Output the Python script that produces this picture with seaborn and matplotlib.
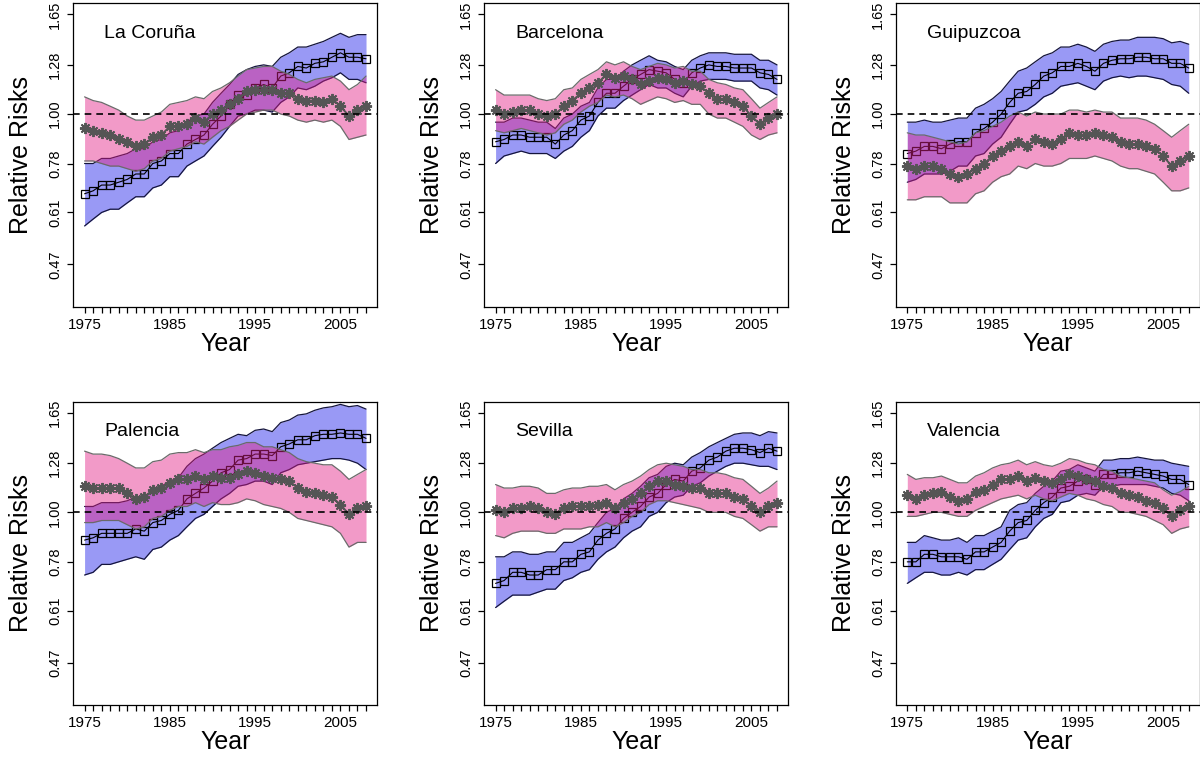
import matplotlib
matplotlib.use("Agg")
import matplotlib.pyplot as plt
import seaborn as sns
from matplotlib.ticker import FixedLocator, NullLocator

# years 1975-2008
years = list(range(1975, 2009))

# La Coruña
co_sq = [0.67,0.68,0.70,0.70,0.71,0.72,0.74,0.74,0.78,0.79,0.82,0.82,0.86,0.88,0.90,0.95,0.99,1.05,1.10,1.10,1.14,1.16,1.14,1.21,1.23,1.27,1.26,1.29,1.30,1.33,1.36,1.33,1.33,1.32]
co_sq_lo = [0.57,0.59,0.61,0.62,0.62,0.64,0.66,0.66,0.69,0.70,0.73,0.73,0.77,0.79,0.81,0.85,0.89,0.94,0.99,1.00,1.02,1.02,1.01,1.06,1.09,1.14,1.13,1.15,1.18,1.20,1.23,1.19,1.19,1.17]
co_sq_hi = [0.78,0.78,0.80,0.80,0.81,0.82,0.84,0.84,0.87,0.88,0.91,0.92,0.96,0.99,1.00,1.06,1.11,1.16,1.22,1.25,1.27,1.28,1.27,1.33,1.36,1.40,1.40,1.42,1.44,1.47,1.50,1.47,1.49,1.49]
co_as = [0.93,0.92,0.91,0.90,0.88,0.87,0.85,0.86,0.89,0.90,0.94,0.94,0.95,0.98,0.96,1.00,1.02,1.05,1.08,1.12,1.13,1.13,1.13,1.11,1.11,1.08,1.07,1.07,1.06,1.08,1.04,0.99,1.02,1.04]
co_as_lo = [0.79,0.79,0.78,0.77,0.77,0.76,0.75,0.76,0.79,0.80,0.83,0.84,0.85,0.87,0.86,0.89,0.92,0.94,0.97,1.00,1.01,1.02,1.02,1.00,0.99,0.97,0.96,0.97,0.96,0.97,0.94,0.88,0.89,0.90]
co_as_hi = [1.09,1.07,1.06,1.04,1.02,0.99,0.97,0.97,0.99,1.01,1.05,1.06,1.07,1.09,1.08,1.12,1.14,1.17,1.21,1.25,1.26,1.27,1.27,1.24,1.22,1.19,1.17,1.19,1.20,1.21,1.18,1.13,1.16,1.21]

# Barcelona
ba_sq = [0.87,0.88,0.90,0.90,0.89,0.89,0.89,0.86,0.90,0.92,0.97,0.99,1.06,1.11,1.11,1.15,1.19,1.22,1.25,1.24,1.23,1.19,1.17,1.23,1.26,1.28,1.27,1.27,1.26,1.26,1.26,1.23,1.22,1.19]
ba_sq_lo = [0.78,0.81,0.82,0.83,0.82,0.82,0.82,0.80,0.83,0.85,0.89,0.92,0.99,1.03,1.03,1.07,1.10,1.13,1.16,1.14,1.14,1.11,1.09,1.15,1.18,1.19,1.19,1.19,1.18,1.18,1.18,1.14,1.13,1.10]
ba_sq_hi = [0.96,0.96,0.98,0.98,0.97,0.96,0.96,0.93,0.98,1.00,1.04,1.06,1.14,1.19,1.19,1.24,1.28,1.31,1.34,1.31,1.30,1.27,1.25,1.31,1.34,1.36,1.36,1.36,1.35,1.35,1.35,1.31,1.31,1.28]
ba_as = [1.02,1.00,1.01,1.02,1.02,1.00,0.99,1.00,1.04,1.07,1.11,1.14,1.17,1.22,1.20,1.21,1.19,1.16,1.18,1.20,1.19,1.17,1.18,1.16,1.15,1.11,1.08,1.08,1.06,1.04,0.99,0.95,0.98,1.00]
ba_as_lo = [0.92,0.91,0.92,0.93,0.92,0.91,0.90,0.91,0.95,0.97,1.01,1.04,1.06,1.10,1.09,1.10,1.08,1.05,1.07,1.09,1.08,1.06,1.07,1.05,1.05,1.00,0.98,0.98,0.96,0.94,0.90,0.88,0.90,0.91]
ba_as_hi = [1.13,1.10,1.10,1.10,1.10,1.08,1.07,1.08,1.13,1.14,1.19,1.22,1.25,1.30,1.28,1.30,1.27,1.25,1.27,1.29,1.28,1.26,1.27,1.24,1.24,1.19,1.17,1.16,1.14,1.13,1.08,1.03,1.06,1.09]

# Guipuzcoa
gu_sq = [0.82,0.83,0.85,0.85,0.84,0.86,0.87,0.87,0.91,0.93,0.96,1.00,1.06,1.11,1.12,1.16,1.21,1.23,1.27,1.27,1.29,1.27,1.24,1.29,1.31,1.32,1.32,1.33,1.33,1.32,1.32,1.29,1.29,1.26]
gu_sq_lo = [0.71,0.72,0.74,0.74,0.74,0.75,0.77,0.77,0.81,0.82,0.86,0.89,0.95,1.01,1.02,1.05,1.09,1.11,1.15,1.16,1.17,1.15,1.13,1.18,1.20,1.21,1.20,1.21,1.21,1.20,1.19,1.16,1.15,1.11]
gu_sq_hi = [0.96,0.96,0.97,0.96,0.96,0.97,0.98,0.98,1.03,1.05,1.08,1.12,1.18,1.24,1.26,1.30,1.34,1.36,1.40,1.40,1.42,1.40,1.37,1.42,1.44,1.45,1.45,1.47,1.47,1.47,1.46,1.43,1.44,1.42]
gu_as = [0.77,0.76,0.77,0.77,0.76,0.74,0.73,0.74,0.76,0.78,0.81,0.83,0.85,0.87,0.85,0.88,0.87,0.86,0.88,0.91,0.90,0.90,0.91,0.90,0.89,0.87,0.86,0.86,0.85,0.84,0.81,0.77,0.79,0.81]
gu_as_lo = [0.65,0.65,0.66,0.66,0.66,0.64,0.64,0.64,0.67,0.68,0.71,0.73,0.74,0.77,0.76,0.78,0.77,0.77,0.78,0.80,0.80,0.80,0.81,0.80,0.79,0.77,0.76,0.76,0.75,0.74,0.71,0.68,0.68,0.69]
gu_as_hi = [0.91,0.90,0.90,0.89,0.88,0.87,0.86,0.87,0.91,0.92,0.94,0.96,0.99,1.01,0.99,1.01,1.00,1.00,1.00,1.02,1.02,1.01,1.02,1.01,1.01,0.98,0.98,0.98,0.97,0.95,0.92,0.89,0.92,0.95]

# Palencia
pa_sq = [0.87,0.88,0.90,0.90,0.90,0.90,0.92,0.91,0.95,0.96,0.99,1.01,1.07,1.10,1.13,1.17,1.22,1.24,1.30,1.31,1.34,1.34,1.33,1.39,1.41,1.44,1.44,1.47,1.48,1.48,1.49,1.48,1.48,1.45]
pa_sq_lo = [0.73,0.74,0.77,0.77,0.78,0.79,0.80,0.79,0.83,0.84,0.87,0.89,0.93,0.97,0.99,1.03,1.07,1.10,1.14,1.15,1.17,1.17,1.15,1.22,1.24,1.27,1.28,1.29,1.30,1.31,1.31,1.30,1.28,1.24]
pa_sq_hi = [1.03,1.03,1.05,1.05,1.05,1.06,1.08,1.07,1.12,1.14,1.17,1.19,1.26,1.31,1.34,1.38,1.42,1.45,1.48,1.47,1.51,1.52,1.50,1.57,1.59,1.63,1.64,1.67,1.69,1.70,1.72,1.70,1.71,1.68]
pa_as = [1.14,1.13,1.13,1.13,1.13,1.10,1.07,1.08,1.12,1.13,1.16,1.18,1.18,1.20,1.18,1.20,1.19,1.19,1.21,1.23,1.22,1.20,1.19,1.18,1.17,1.13,1.11,1.10,1.09,1.08,1.04,0.99,1.02,1.03]
pa_as_lo = [0.95,0.95,0.96,0.96,0.96,0.94,0.92,0.93,0.97,0.98,1.01,1.03,1.03,1.05,1.03,1.05,1.04,1.04,1.05,1.07,1.06,1.04,1.03,1.02,1.00,0.97,0.96,0.95,0.94,0.93,0.90,0.84,0.86,0.86]
pa_as_hi = [1.36,1.34,1.34,1.33,1.31,1.28,1.25,1.25,1.29,1.30,1.34,1.35,1.35,1.37,1.35,1.37,1.37,1.39,1.40,1.42,1.42,1.39,1.39,1.37,1.35,1.31,1.29,1.28,1.27,1.27,1.23,1.18,1.21,1.24]

# Sevilla
se_sq = [0.70,0.71,0.74,0.74,0.73,0.73,0.75,0.75,0.78,0.78,0.81,0.82,0.87,0.90,0.92,0.97,1.00,1.03,1.08,1.10,1.15,1.18,1.17,1.23,1.25,1.30,1.32,1.36,1.38,1.38,1.37,1.35,1.38,1.36]
se_sq_lo = [0.62,0.64,0.66,0.66,0.66,0.67,0.68,0.68,0.71,0.72,0.74,0.75,0.79,0.82,0.84,0.88,0.91,0.93,0.98,1.00,1.05,1.08,1.09,1.14,1.16,1.20,1.23,1.26,1.28,1.28,1.27,1.26,1.26,1.24]
se_sq_hi = [0.80,0.80,0.82,0.82,0.81,0.81,0.82,0.82,0.86,0.86,0.88,0.90,0.95,1.00,1.02,1.07,1.10,1.14,1.19,1.21,1.26,1.28,1.27,1.32,1.35,1.39,1.42,1.45,1.48,1.49,1.49,1.47,1.50,1.49]
se_as = [1.01,1.00,1.02,1.02,1.03,1.02,1.00,0.99,1.02,1.03,1.03,1.03,1.04,1.05,1.02,1.05,1.07,1.10,1.14,1.17,1.17,1.15,1.14,1.13,1.13,1.10,1.10,1.10,1.08,1.07,1.03,1.00,1.03,1.05]
se_as_lo = [0.89,0.88,0.90,0.91,0.91,0.91,0.90,0.90,0.92,0.92,0.92,0.93,0.93,0.95,0.93,0.95,0.98,1.00,1.04,1.06,1.06,1.05,1.04,1.03,1.02,1.00,1.00,1.00,0.98,0.97,0.94,0.91,0.93,0.93]
se_as_hi = [1.15,1.13,1.13,1.14,1.14,1.13,1.10,1.10,1.12,1.13,1.13,1.14,1.14,1.15,1.12,1.15,1.17,1.20,1.24,1.27,1.28,1.27,1.26,1.24,1.24,1.22,1.22,1.21,1.19,1.18,1.14,1.10,1.13,1.17]

# Valencia
va_sq = [0.78,0.78,0.81,0.81,0.80,0.80,0.80,0.79,0.82,0.82,0.84,0.86,0.91,0.95,0.96,1.01,1.05,1.08,1.13,1.14,1.17,1.18,1.15,1.21,1.21,1.22,1.22,1.23,1.22,1.21,1.20,1.18,1.18,1.15]
va_sq_lo = [0.70,0.72,0.74,0.74,0.73,0.73,0.74,0.73,0.75,0.75,0.77,0.79,0.83,0.87,0.88,0.93,0.97,0.99,1.05,1.06,1.09,1.10,1.09,1.14,1.14,1.15,1.15,1.15,1.15,1.14,1.13,1.10,1.09,1.06]
va_sq_hi = [0.86,0.86,0.89,0.88,0.87,0.87,0.88,0.86,0.89,0.89,0.91,0.93,1.01,1.04,1.05,1.10,1.14,1.17,1.23,1.24,1.27,1.25,1.23,1.30,1.30,1.31,1.31,1.32,1.31,1.30,1.30,1.28,1.27,1.26]
va_as = [1.09,1.07,1.09,1.10,1.11,1.08,1.06,1.07,1.11,1.12,1.15,1.18,1.18,1.20,1.17,1.19,1.17,1.16,1.18,1.21,1.20,1.18,1.17,1.14,1.13,1.10,1.09,1.08,1.06,1.05,1.02,0.98,1.01,1.03]
va_as_lo = [0.98,0.98,0.99,1.00,1.00,0.99,0.98,0.98,1.01,1.03,1.05,1.07,1.08,1.09,1.07,1.09,1.07,1.06,1.08,1.10,1.09,1.07,1.06,1.04,1.03,1.00,1.00,0.99,0.98,0.96,0.94,0.90,0.92,0.93]
va_as_hi = [1.21,1.18,1.19,1.19,1.20,1.18,1.16,1.16,1.20,1.22,1.25,1.27,1.28,1.30,1.27,1.29,1.27,1.26,1.28,1.31,1.30,1.28,1.27,1.24,1.23,1.20,1.19,1.18,1.17,1.16,1.12,1.09,1.11,1.14]

regions = [
    ("La Coruña", co_sq, co_sq_lo, co_sq_hi, co_as, co_as_lo, co_as_hi),
    ("Barcelona", ba_sq, ba_sq_lo, ba_sq_hi, ba_as, ba_as_lo, ba_as_hi),
    ("Guipuzcoa", gu_sq, gu_sq_lo, gu_sq_hi, gu_as, gu_as_lo, gu_as_hi),
    ("Palencia", pa_sq, pa_sq_lo, pa_sq_hi, pa_as, pa_as_lo, pa_as_hi),
    ("Sevilla", se_sq, se_sq_lo, se_sq_hi, se_as, se_as_lo, se_as_hi),
    ("Valencia", va_sq, va_sq_lo, va_sq_hi, va_as, va_as_lo, va_as_hi),
]

y_ticks = [0.47, 0.61, 0.78, 1.00, 1.28, 1.65]
y_tick_labels = ["0.47", "0.61", "0.78", "1.00", "1.28", "1.65"]
x_tick_labels = [1975, 1985, 1995, 2005]

sns.set_style("ticks")
plt.rcParams["font.family"] = ["Liberation Sans", "DejaVu Sans"]
plt.rcParams["text.color"] = "black"
plt.rcParams["axes.labelcolor"] = "black"
plt.rcParams["xtick.color"] = "black"
plt.rcParams["ytick.color"] = "black"

blue_fill = (0.0, 0.0, 0.90, 0.40)
blue_edge = "#14143c"
pink_fill = (0.89, 0.12, 0.53, 0.45)
pink_edge = "#6a6a6a"
ast_col = "#555555"

fig = plt.figure(figsize=(12, 7.58), dpi=100)
lefts = [0.0611, 0.4036, 0.7467]
bottoms = [0.5954, 0.0699]
w, h = 0.2533, 0.4004

for i, (name, sq, sq_lo, sq_hi, ast, ast_lo, ast_hi) in enumerate(regions):
    ax = fig.add_axes([lefts[i % 3], bottoms[i // 3], w, h])

    # band for the square series, then its line
    ax.fill_between(years, sq_lo, sq_hi, facecolor=blue_fill, linewidth=0, zorder=1)
    ax.plot(years, sq_lo, color=blue_edge, lw=0.9, zorder=1.5)
    ax.plot(years, sq_hi, color=blue_edge, lw=0.9, zorder=1.5)
    sns.lineplot(x=years, y=sq, ax=ax, color="black", lw=0.8, marker="s",
                 markersize=5.5, markerfacecolor="none", markeredgecolor="black",
                 markeredgewidth=0.9, zorder=2)

    # band for the asterisk series drawn over it
    ax.fill_between(years, ast_lo, ast_hi, facecolor=pink_fill, linewidth=0, zorder=3)
    ax.plot(years, ast_lo, color=pink_edge, lw=0.9, zorder=3.5)
    ax.plot(years, ast_hi, color=pink_edge, lw=0.9, zorder=3.5)
    sns.lineplot(x=years, y=ast, ax=ax, color=ast_col, lw=1.4, marker=(8, 2, 0),
                 markersize=8, markeredgecolor=ast_col, markeredgewidth=1.4, zorder=4)

    ax.axhline(1.0, color="black", ls=(0, (4, 3)), lw=1.2, zorder=5)

    ax.set_yscale("log")
    ax.set_ylim(0.380, 1.745)
    ax.set_xlim(1973.68, 2009.32)
    ax.yaxis.set_major_locator(FixedLocator(y_ticks))
    ax.yaxis.set_minor_locator(NullLocator())
    ax.set_yticklabels(y_tick_labels, rotation=90, va="center", fontsize=10.5)
    ax.set_xticks(years)
    ax.set_xticklabels([str(y) if y in x_tick_labels else "" for y in years], fontsize=11)
    ax.tick_params(axis="both", direction="out", length=4, width=0.9, color="black", pad=4)

    for sp in ax.spines.values():
        sp.set_visible(True)
        sp.set_color("black")
        sp.set_linewidth(0.9)

    ax.set_xlabel("Year", fontsize=18, labelpad=0)
    ax.set_ylabel("Relative Risks", fontsize=18, labelpad=11)
    ax.text(0.102, 0.90, name, transform=ax.transAxes, fontsize=14,
            ha="left", va="center", zorder=6)
    if ax.get_legend() is not None:
        ax.get_legend().remove()

fig.savefig("out.png", dpi=100)
